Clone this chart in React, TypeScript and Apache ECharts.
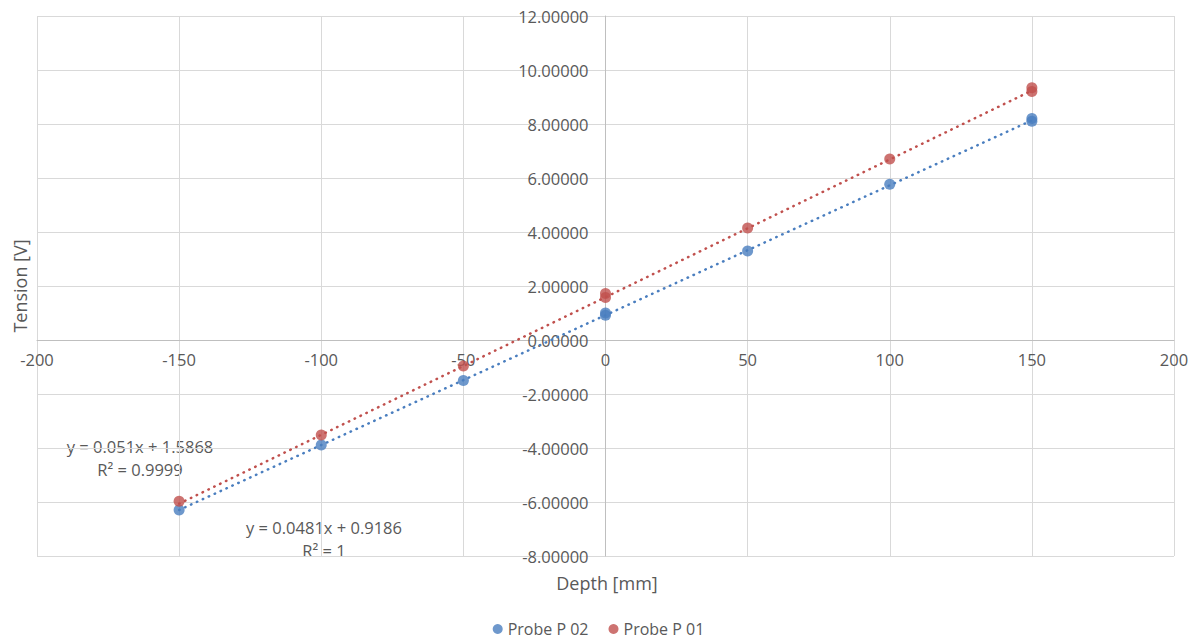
import React, { useEffect, useRef } from "react";
import * as echarts from "echarts";

// Measured depth positions and sensor output voltages for each probe
const depthMm = [-150, -100, -50, 0, 0, 50, 100, 150, 150];
const probeP02 = [-6.3, -3.89, -1.5, 1.0, 0.92, 3.3, 5.77, 8.1, 8.2];
const probeP01 = [-5.97, -3.52, -0.96, 1.72, 1.57, 4.15, 6.7, 9.2, 9.34];

// Linear trendline fits (slope, intercept, R²)
const fitP02 = { slope: 0.0481, intercept: 0.9186, r2: "1" };
const fitP01 = { slope: 0.051, intercept: 1.5868, r2: "0.9999" };
const fitRange = [-150, 150];

const xTicks = { min: -200, max: 200, step: 50 };
const yTicks = { min: -8, max: 12, step: 2 };

const BLUE = "#4A7EBF";
const RED = "#C0504D";
const TEXT = "#595959";
const FONT = "Open Sans, Liberation Sans, Arial, sans-serif";

// Plot area in page pixels
const GRID = { left: 37, right: 23, top: 16, bottom: 86 };
const W = 1197;
const H = 642;

const trend = (fit: { slope: number; intercept: number }) =>
  fitRange.map((x) => [x, fit.slope * x + fit.intercept]);

const eqText = (fit: { slope: number; intercept: number }) =>
  `y = ${fit.slope}x + ${fit.intercept}`;

export default function App() {
  const ref = useRef<HTMLDivElement>(null);

  useEffect(() => {
    if (!ref.current) return;
    const chart = echarts.init(ref.current, undefined, { renderer: "svg" });
    const labelStyle = { color: TEXT, fontSize: 16.5, fontFamily: FONT };

    // Axes cross at the origin: shift them from the grid edges to zero
    const plotW = W - GRID.left - GRID.right;
    const plotH = H - GRID.top - GRID.bottom;
    const yAxisShift =
      ((0 - xTicks.min) / (xTicks.max - xTicks.min)) * plotW;
    const xAxisShift =
      ((0 - yTicks.min) / (yTicks.max - yTicks.min)) * plotH;

    const text = (
      x: number,
      y: number,
      s: string,
      size: number,
      extra: Record<string, unknown> = {}
    ) => ({
      type: "text",
      x,
      y,
      ...extra,
      style: {
        text: s,
        fill: TEXT,
        fontSize: size,
        fontFamily: FONT,
        align: "center",
        verticalAlign: "middle",
      },
    });

    chart.setOption({
      animation: false,
      backgroundColor: "#ffffff",
      grid: { ...GRID, containLabel: false, outerBoundsMode: "none" },
      xAxis: {
        type: "value",
        min: xTicks.min,
        max: xTicks.max,
        interval: xTicks.step,
        offset: -xAxisShift,
        axisLine: { onZero: false, lineStyle: { color: "#bfbfbf", width: 1 } },
        axisTick: { show: false },
        axisLabel: { ...labelStyle, margin: 11 },
        splitLine: { lineStyle: { color: "#d9d9d9", width: 1 } },
      },
      yAxis: {
        type: "value",
        min: yTicks.min,
        max: yTicks.max,
        interval: yTicks.step,
        offset: -yAxisShift,
        axisLine: { onZero: false, lineStyle: { color: "#bfbfbf", width: 1 } },
        axisTick: { show: false },
        axisLabel: {
          ...labelStyle,
          margin: 17,
          formatter: (v: number) => v.toFixed(5),
        },
        splitLine: { lineStyle: { color: "#d9d9d9", width: 1 } },
      },
      legend: {
        left: "center",
        top: 619,
        padding: 0,
        itemWidth: 10,
        itemHeight: 10,
        itemGap: 20,
        icon: "circle",
        textStyle: {
          color: TEXT,
          fontSize: 16,
          fontFamily: FONT,
          lineHeight: 20,
        },
        data: ["Probe P 02", "Probe P 01"],
      },
      series: [
        {
          name: "Probe P 02 trend",
          type: "line",
          data: trend(fitP02),
          showSymbol: false,
          silent: true,
          lineStyle: { color: BLUE, width: 2.5, type: [0.5, 6], cap: "round" },
          z: 2,
        },
        {
          name: "Probe P 01 trend",
          type: "line",
          data: trend(fitP01),
          showSymbol: false,
          silent: true,
          lineStyle: { color: RED, width: 2.5, type: [0.5, 6], cap: "round" },
          z: 2,
        },
        {
          name: "Probe P 02",
          type: "scatter",
          symbolSize: 11,
          itemStyle: { color: BLUE },
          data: depthMm.map((d, i) => [d, probeP02[i]]),
          z: 3,
        },
        {
          name: "Probe P 01",
          type: "scatter",
          symbolSize: 11,
          itemStyle: { color: RED },
          data: depthMm.map((d, i) => [d, probeP01[i]]),
          z: 3,
        },
      ],
      graphic: [
        text(607, 583, "Depth [mm]", 18),
        text(20, 286, "Tension [V]", 18, { rotation: Math.PI / 2 }),
        text(140, 446, eqText(fitP01), 16.5),
        text(140, 469, `R² = ${fitP01.r2}`, 16.5),
        text(324, 527, eqText(fitP02), 16.5),
        text(324, 550, `R² = ${fitP02.r2}`, 16.5),
      ],
    });
    return () => chart.dispose();
  }, []);

  return (
    <div
      ref={ref}
      style={{ position: "fixed", left: 0, top: 0, width: W, height: H }}
    />
  );
}
